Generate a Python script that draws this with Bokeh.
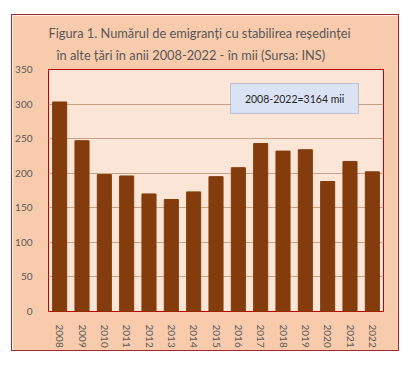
from bokeh.plotting import figure
from bokeh.models import FactorRange, Range1d, FixedTicker, Label, BoxAnnotation, Title
from bokeh.embed import file_html
from bokeh.resources import INLINE

years = [str(y) for y in range(2008, 2023)]
emigrants = [303, 247, 198, 196, 170, 162, 173, 195, 208, 243, 232, 234, 188, 217, 202]
y_ticks = [0, 50, 100, 150, 200, 250, 300, 350]
title_lines = [
    "Figura 1. Numărul de emigranți cu stabilirea reședinței",
    "în alte țări în anii 2008-2022 - în mii (Sursa: INS)",
]
total_label = "2008-2022=3164 mii"

FONT = "Lato"

p = figure(
    x_range=FactorRange(*years, range_padding=0),
    y_range=Range1d(0, 350),
    frame_width=335, frame_height=242,
    min_border_left=26, min_border_right=15,
    min_border_top=54, min_border_bottom=38,
    output_backend="svg", toolbar_location=None,
    background_fill_color="#FBE5D6",
    border_fill_color="#F8CBAD",
    outline_line_color="#C00000", outline_line_width=1,
)
p.margin = (14, 0, 0, 11)
p.styles = {"border": "1px solid #9E2B2B"}

p.vbar(x=years, top=emigrants, width=0.63, color="#843C0C")

p.xgrid.grid_line_color = None
p.ygrid.ticker = FixedTicker(ticks=y_ticks)
p.ygrid.grid_line_color = "#C9A285"

p.yaxis.ticker = FixedTicker(ticks=y_ticks)
for ax in (p.xaxis[0], p.yaxis[0]):
    ax.axis_line_color = None
    ax.major_tick_line_color = None
    ax.minor_tick_line_color = None
    ax.major_label_text_color = "#595959"
    ax.major_label_text_font = FONT
    ax.major_label_text_font_size = "10px"
p.yaxis.major_label_standoff = 10
p.xaxis.major_label_orientation = "vertical"
p.xaxis.major_label_standoff = 7

p.add_layout(BoxAnnotation(left=8.15, right=13.88, bottom=286.4, top=329.8,
                           fill_color="#DAE3F3", fill_alpha=1.0,
                           line_color="#4A6FA5", line_width=1))
p.add_layout(Label(x=11.02, y=308, text=total_label, text_align="center",
                   text_baseline="middle", text_font=FONT,
                   text_font_size="10.5px", text_color="#262626"))

# title: second line first (closest to the frame), then first line
p.add_layout(Title(text=title_lines[1], align="left", offset=8,
                   standoff=14, text_font=FONT, text_font_size="12.8px",
                   text_font_style="normal", text_color="#595959"), "above")
p.add_layout(Title(text=title_lines[0], align="left", offset=0,
                   standoff=-6, text_font=FONT, text_font_size="12.8px",
                   text_font_style="normal", text_color="#595959"), "above")

open("out.html", "w").write(file_html(p, INLINE))
